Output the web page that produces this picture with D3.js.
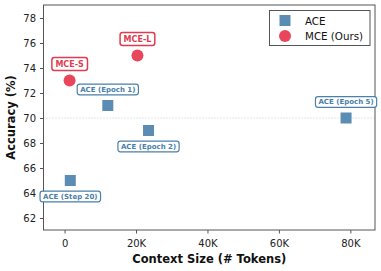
<!DOCTYPE html>
<html><head><meta charset="utf-8">
<script src="https://cdn.jsdelivr.net/npm/d3@7"></script>
<style>body{margin:0;background:#fff}svg{display:block}text{font-family:"DejaVu Sans",sans-serif}</style>
</head><body><svg id="c" width="381" height="271"></svg>
<script>
const aceLabels = ["ACE (Step 20)", "ACE (Epoch 1)", "ACE (Epoch 2)", "ACE (Epoch 5)"];
const aceX = [1600, 12100, 23500, 78800];
const aceY = [65, 71, 69, 70];
const acePos = ["below", "above", "below", "above"];
const mceLabels = ["MCE-S", "MCE-L"];
const mceX = [1400, 20400];
const mceY = [73, 75];
const xTicks = [0, 20000, 40000, 60000, 80000];
const xTickLabels = ["0", "20K", "40K", "60K", "80K"];
const yTicks = [62, 64, 66, 68, 70, 72, 74, 76, 78];
const legendLabels = ["ACE", "MCE (Ours)"];

const aceColor = "#5b8db4", aceDark = "#4a80aa";
const mceColor = "#e8475b", mceDark = "#e03b50";
const L = 43.5, R = 375, T = 5, B = 230;
const svg = d3.select("#c");
const x = d3.scaleLinear().domain([-5900, 86900]).range([L, R]);
const y = d3.scaleLinear().domain([61.04, 79.04]).range([B, T]);

svg.append("line").attr("x1", L).attr("x2", R).attr("y1", y(70)).attr("y2", y(70))
  .attr("stroke", "#bbb").attr("stroke-width", 0.8).attr("stroke-dasharray", "1,2");

const gx = svg.append("g").attr("transform", `translate(0,${B})`)
  .call(d3.axisBottom(x).tickValues(xTicks).tickFormat((d, i) => xTickLabels[i]).tickSize(3.5).tickSizeOuter(0));
const gy = svg.append("g").attr("transform", `translate(${L},0)`)
  .call(d3.axisLeft(y).tickValues(yTicks).tickSize(3.5).tickSizeOuter(0));
[gx, gy].forEach(g => {
  g.selectAll("text").attr("font-size", 10).attr("fill", "#222").attr("font-family", "DejaVu Sans");
  g.selectAll("line").attr("stroke", "#555");
  g.select(".domain").remove();
});
gx.selectAll("text").attr("dy", "1.0em");
gy.selectAll("text").attr("dx", "-0.1em");

svg.append("rect").attr("x", L).attr("y", T).attr("width", R - L).attr("height", B - T)
  .attr("fill", "none").attr("stroke", "#555").attr("stroke-width", 1);

svg.append("text").attr("x", (L + R) / 2).attr("y", 263).attr("text-anchor", "middle")
  .attr("font-size", 11.5).attr("font-weight", "bold").attr("fill", "#111").text("Context Size (# Tokens)");
svg.append("text").attr("transform", `translate(14.5,${(T + B) / 2}) rotate(-90)`).attr("text-anchor", "middle")
  .attr("font-size", 11.5).attr("font-weight", "bold").attr("fill", "#111").text("Accuracy (%)");

const s = 11;
svg.selectAll(".ace").data(aceX).enter().append("rect")
  .attr("x", (d) => x(d) - s / 2).attr("y", (d, i) => y(aceY[i]) - s / 2)
  .attr("width", s).attr("height", s).attr("fill", aceColor);
svg.selectAll(".mce").data(mceX).enter().append("circle")
  .attr("cx", d => x(d)).attr("cy", (d, i) => y(mceY[i])).attr("r", 6).attr("fill", mceColor);

function label(cx, cy, txt, fs, col, sw, px, py) {
  const g = svg.append("g");
  const t = g.append("text").attr("x", cx).attr("y", cy).attr("text-anchor", "middle")
    .attr("dominant-baseline", "central").attr("font-size", fs).attr("font-weight", "bold")
    .attr("fill", col).text(txt);
  const bb = t.node().getBBox();
  g.insert("rect", "text").attr("x", bb.x - px).attr("y", cy - fs / 2 - py)
    .attr("width", bb.width + 2 * px).attr("height", fs + 2 * py).attr("rx", 2.5)
    .attr("fill", "#fff").attr("stroke", col).attr("stroke-width", sw);
}
aceX.forEach((d, i) => {
  const off = acePos[i] === "above" ? -16 : 16;
  label(x(d), y(aceY[i]) + off, aceLabels[i], 7, aceDark, 1.2, 3, 1.8);
});
mceX.forEach((d, i) => {
  label(x(d), y(mceY[i]) - 16.5, mceLabels[i], 8, mceDark, 1.5, 3.5, 2.5);
});

const lg = svg.append("g");
lg.append("rect").attr("x", 269.5).attr("y", 10.5).attr("width", 100.5).attr("height", 35)
  .attr("fill", "#fff").attr("stroke", "#555").attr("stroke-width", 1);
lg.append("rect").attr("x", 285 - 5.5).attr("y", 20.5 - 5.5).attr("width", 11).attr("height", 11).attr("fill", aceColor);
lg.append("circle").attr("cx", 285).attr("cy", 36).attr("r", 6).attr("fill", mceColor);
legendLabels.forEach((t, i) => {
  lg.append("text").attr("x", 305).attr("y", i === 0 ? 20.5 : 36).attr("dominant-baseline", "central")
    .attr("font-size", 10.3).attr("fill", "#111").text(t);
});
</script></body></html>
